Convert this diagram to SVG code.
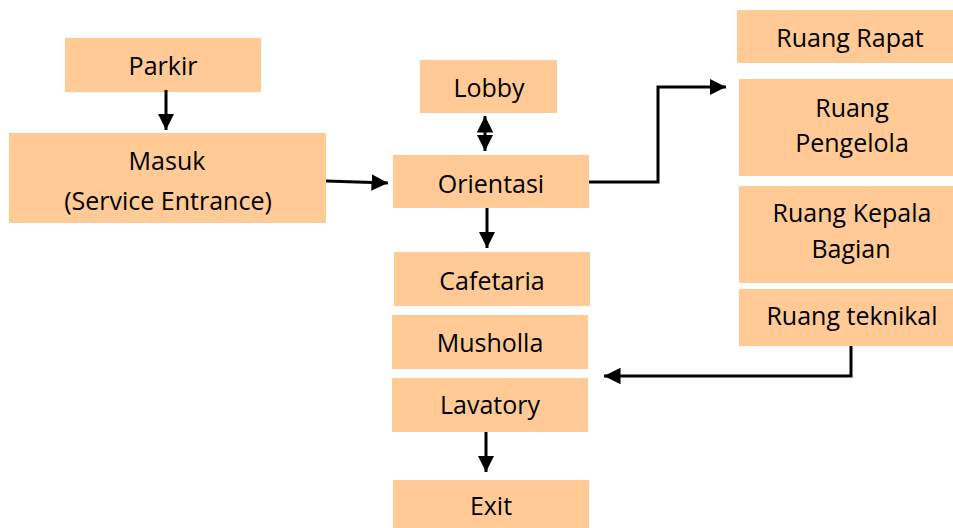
<svg xmlns="http://www.w3.org/2000/svg" width="953" height="528" viewBox="0 0 953 528">
<style>
.box{fill:#FFCA96;stroke:none}
.t{font-family:"Open Sans","Noto Sans","Liberation Sans",sans-serif;font-size:25px;fill:#000;text-anchor:middle}
.c{fill:none;stroke:#000;stroke-width:3}
</style>
<defs>
<marker id="ah" viewBox="0 0 10 10" refX="10" refY="5" markerWidth="5.5" markerHeight="5.5" orient="auto-start-reverse" markerUnits="strokeWidth">
<path d="M0,0 L10,5 L0,10 Z" fill="#000"/>
</marker>
</defs>
<rect width="953" height="528" fill="#fff"/>
<g id="parkir"><rect class="box" x="65" y="38" width="196" height="54"/><text class="t" x="163" y="75">Parkir</text></g>
<g id="masuk"><rect class="box" x="9" y="133" width="317" height="90"/><text class="t" x="167" y="170">Masuk</text><text class="t" x="168" y="210">(Service Entrance)</text></g>
<g id="lobby"><rect class="box" x="420" y="60" width="137" height="53"/><text class="t" x="489" y="97">Lobby</text></g>
<g id="orientasi"><rect class="box" x="393" y="155" width="196" height="53"/><text class="t" x="491" y="193">Orientasi</text></g>
<g id="cafetaria"><rect class="box" x="394" y="252" width="196" height="54"/><text class="t" x="492" y="290">Cafetaria</text></g>
<g id="musholla"><rect class="box" x="392" y="315" width="196" height="54"/><text class="t" x="490" y="352">Musholla</text></g>
<g id="lavatory"><rect class="box" x="392" y="378" width="196" height="54"/><text class="t" x="490" y="414">Lavatory</text></g>
<g id="exit"><rect class="box" x="393" y="480" width="196" height="48"/><text class="t" x="491" y="515">Exit</text></g>
<g id="ruang-rapat"><rect class="box" x="737" y="10" width="216" height="53"/><text class="t" x="850" y="47">Ruang Rapat</text></g>
<g id="ruang-pengelola"><rect class="box" x="739" y="79" width="214" height="97"/><text class="t" x="852" y="117">Ruang</text><text class="t" x="852" y="152">Pengelola</text></g>
<g id="ruang-kepala"><rect class="box" x="739" y="186" width="214" height="97"/><text class="t" x="852" y="222">Ruang Kepala</text><text class="t" x="851" y="258">Bagian</text></g>
<g id="ruang-teknikal"><rect class="box" x="739" y="289" width="214" height="57"/><text class="t" x="852" y="325">Ruang teknikal</text></g>
<g id="connectors">
<path class="c" d="M166,90 V130" marker-end="url(#ah)"/>
<path class="c" d="M326,181 L388,183" marker-end="url(#ah)"/>
<path class="c" d="M485,116 V151" marker-start="url(#ah)" marker-end="url(#ah)"/>
<path class="c" d="M487,208 V248" marker-end="url(#ah)"/>
<path class="c" d="M589,182 H658 V87 H726" marker-end="url(#ah)"/>
<path class="c" d="M851,346 V376 H604" marker-end="url(#ah)"/>
<path class="c" d="M486,432 V472" marker-end="url(#ah)"/>
</g>
</svg>
